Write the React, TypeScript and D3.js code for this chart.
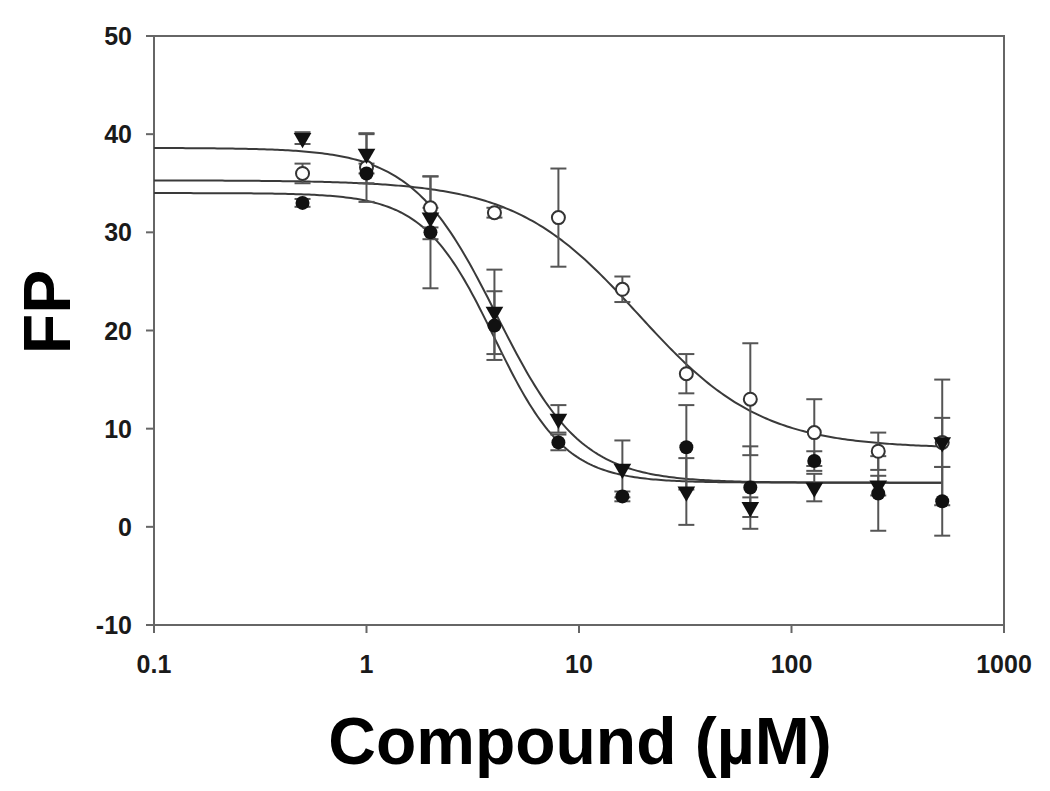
import React from "react";
import * as d3 from "d3";

// concentrations (µM)
const conc = [0.5, 1, 2, 4, 8, 16, 32, 64, 128, 256, 512];

// series: filled circles
const filledCircle = [33.0, 36.0, 30.0, 20.5, 8.6, 3.1, 8.1, 4.0, 6.7, 3.4, 2.6];
const filledCircleErr = [0.4, 1.0, 5.7, 3.5, 0.8, 0.5, 4.3, 4.2, 1.0, 3.8, 3.5];

// series: open circles
const openCircle = [36.0, 36.6, 32.5, 32.0, 31.5, 24.2, 15.6, 13.0, 9.6, 7.7, 8.6];
const openCircleErr = [1.0, 3.5, 3.2, 0.5, 5.0, 1.3, 2.0, 5.7, 3.4, 1.9, 6.4];

// series: filled down-triangles
const triangle = [39.6, 38.0, 31.5, 21.9, 11.0, 5.9, 3.6, 2.0, 4.0, 4.2, 8.6];
const triangleErr = [0.6, 2.0, 1.0, 4.3, 1.4, 2.9, 3.4, 1.0, 1.4, 1.0, 2.5];

// fitted 4-parameter logistic curves: [top, bottom, EC50, hill]
const fitFilledCircle = [34.0, 4.5, 4.0, 2.6];
const fitOpenCircle = [35.3, 8.0, 19, 1.5];
const fitTriangle = [38.6, 4.5, 4.1, 2.17];

const xTicks = [0.1, 1, 10, 100, 1000];
const xTickLabels = ["0.1", "1", "10", "100", "1000"];
const yTicks = [-10, 0, 10, 20, 30, 40, 50];

const W = 1050;
const H = 791;
const left = 154;
const right = 1004;
const top = 36;
const bottom = 625;

export default function App() {
  const x = d3.scaleLog().domain([0.1, 1000]).range([left, right]);
  const y = d3.scaleLinear().domain([-10, 50]).range([bottom, top]);

  const curve = (p: number[]) => {
    const [t, b, ec, h] = p;
    const xs = d3.range(0, 301).map((i) => Math.pow(10, -1 + (i / 300) * (Math.log10(512) + 1)));
    const line = d3
      .line<number>()
      .x((c) => x(c))
      .y((c) => y(b + (t - b) / (1 + Math.pow(c / ec, h))));
    return line(xs) || "";
  };

  const errorBars = (vals: number[], errs: number[], key: string) =>
    vals.map((v, i) => {
      const cx = x(conc[i]);
      const y1 = y(v + errs[i]);
      const y2 = y(v - errs[i]);
      return (
        <g key={key + i} stroke="#555" strokeWidth={2}>
          <line x1={cx} x2={cx} y1={y1} y2={y2} />
          <line x1={cx - 8} x2={cx + 8} y1={y1} y2={y1} />
          <line x1={cx - 8} x2={cx + 8} y1={y2} y2={y2} />
        </g>
      );
    });

  const tri = d3.symbol().type(d3.symbolTriangle).size(135)();

  return (
    <svg
      width={W}
      height={H}
      style={{ position: "absolute", left: 0, top: 0, background: "#fff" }}
      fontFamily="'Liberation Sans', Arial, sans-serif"
    >
      <rect x={0} y={0} width={W} height={H} fill="#fff" />
      {/* frame */}
      <rect x={left} y={top} width={right - left} height={bottom - top} fill="none" stroke="#666" strokeWidth={2} />
      {/* y ticks */}
      {yTicks.map((t) => (
        <g key={"yt" + t}>
          <line x1={left - 8} x2={left} y1={y(t)} y2={y(t)} stroke="#666" strokeWidth={2} />
          <text x={left - 22} y={y(t)} dy="0.36em" textAnchor="end" fontSize={25} fontWeight="bold" fill="#1a1a1a">
            {t}
          </text>
        </g>
      ))}
      {/* x ticks */}
      {xTicks.map((t, i) => (
        <g key={"xt" + t}>
          <line x1={x(t)} x2={x(t)} y1={bottom} y2={bottom + 8} stroke="#666" strokeWidth={2} />
          <text x={x(t)} y={673} textAnchor="middle" fontSize={25} fontWeight="bold" fill="#1a1a1a">
            {xTickLabels[i]}
          </text>
        </g>
      ))}
      {/* axis titles */}
      <text x={580} y={764} textAnchor="middle" fontSize={66} fontWeight="bold" fill="#000">
        Compound (µM)
      </text>
      <text
        transform={`translate(70,312) rotate(-90)`}
        textAnchor="middle"
        fontSize={66}
        fontWeight="bold"
        fill="#000"
      >
        FP
      </text>

      {/* fitted curves */}
      <path d={curve(fitOpenCircle)} fill="none" stroke="#3a3a3a" strokeWidth={2} />
      <path d={curve(fitTriangle)} fill="none" stroke="#3a3a3a" strokeWidth={2} />
      <path d={curve(fitFilledCircle)} fill="none" stroke="#3a3a3a" strokeWidth={2} />

      {/* error bars */}
      {errorBars(openCircle, openCircleErr, "eo")}
      {errorBars(filledCircle, filledCircleErr, "ef")}
      {errorBars(triangle, triangleErr, "et")}

      {/* markers */}
      {openCircle.map((v, i) => (
        <circle key={"o" + i} cx={x(conc[i])} cy={y(v)} r={6.5} fill="#fff" stroke="#333" strokeWidth={2} />
      ))}
      {filledCircle.map((v, i) => (
        <circle key={"f" + i} cx={x(conc[i])} cy={y(v)} r={7} fill="#111" />
      ))}
      {triangle.map((v, i) => (
        <path
          key={"t" + i}
          d={tri || ""}
          transform={`translate(${x(conc[i])},${y(v)}) rotate(180)`}
          fill="#111"
        />
      ))}
    </svg>
  );
}
